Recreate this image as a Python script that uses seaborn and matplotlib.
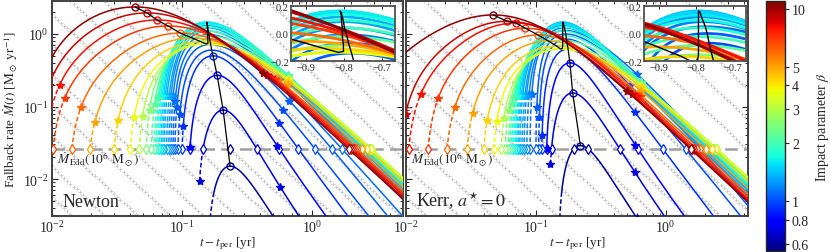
import numpy as np
import matplotlib
matplotlib.use("Agg")
import matplotlib.pyplot as plt
import seaborn as sns
from matplotlib.colors import LogNorm
from matplotlib.cm import ScalarMappable
from matplotlib.ticker import FixedLocator, FixedFormatter, NullLocator

sns.set_style("ticks")
plt.rcParams['font.family'] = ['Liberation Serif', 'DejaVu Serif']
plt.rcParams['mathtext.fontset'] = 'stix'

M_EDD = 0.026          # Eddington rate of a 1e6 Msun black hole [Msun/yr]
RISE_POWER = 1.0

# impact parameters of the plotted encounters
beta = [10.5, 9.0, 8.0, 7.0, 6.0, 5.0, 4.3, 3.7, 3.0, 2.5, 2.2, 2.0, 1.85, 1.7,
        1.6, 1.5, 1.42, 1.35, 1.28, 1.22, 1.16, 1.1, 1.05, 1.0, 0.92, 0.8, 0.7, 0.6]

# ---- Newton panel, values ----
newton_t_peak = [0.0435, 0.0538, 0.0643, 0.078, 0.097, 0.120, 0.140, 0.153, 0.158, 0.158,
                 0.157, 0.157, 0.156, 0.156, 0.155, 0.155, 0.156, 0.157, 0.158, 0.159,
                 0.161, 0.163, 0.166, 0.169, 0.173, 0.186, 0.207, 0.234]
newton_m_peak = [2.36, 1.95, 1.56, 1.29, 1.03, 0.88, 0.78, 0.73, 0.74, 0.82, 0.95, 1.10,
                 1.25, 1.38, 1.46, 1.45, 1.40, 1.32, 1.22, 1.10, 0.98, 0.85, 0.72, 0.60,
                 0.50, 0.27, 0.0895, 0.0151]
# one point on the rising branch (mostly the Eddington crossing)
newton_rise_t = [0.01, 0.01, 0.01, 0.0102, 0.0142, 0.0196, 0.030, 0.040, 0.047, 0.053,
                 0.058, 0.061, 0.063, 0.065, 0.067, 0.069, 0.071, 0.073, 0.076, 0.079,
                 0.082, 0.085, 0.088, 0.093, 0.100, 0.115, 0.145, 0.165]
newton_rise_m = [0.48, 0.25, 0.10] + [M_EDD] * 24 + [0.003]
# one point on the decaying branch
newton_late_t = [5.0] * 21 + [1.70, 1.42, 1.055, 0.785, 0.56, 0.376, 0.5]
newton_late_m = [0.0053, 0.0056, 0.0060, 0.0064, 0.0068, 0.0078, 0.0092, 0.0102, 0.0105,
                 0.0102, 0.0098, 0.0094, 0.0090, 0.0087, 0.0084, 0.0080, 0.0076, 0.0072,
                 0.0066, 0.0060, 0.0052] + [M_EDD] * 6 + [0.0031]
decay_index = [5 / 3] * 19 + [1.8, 1.9, 2.0, 2.2, 2.2, 2.3, 2.3, 2.3, 2.2]
newton_star_rise = [0.2, 0.2, 0.2, 0.13, 0.10, 0.062, 0.065, 0.072, 0.075, 0.09, 0.11,
                    0.13, 0.14, 0.14, 0.14, 0.14, 0.14, 0.14, 0.14, 0.14, 0.14, 0.12,
                    0.10, 0.079, 0.054, 0.028, 0.0093, np.nan]
newton_dash_top = [np.nan] * 27 + [0.0066]
newton_star_fall = [0.42, 0.45, 0.48, 0.52, 0.55] + [0.65] * 16 + [0.70, 0.67, 0.60, 0.56, 0.54, 0.57, 0.60]
newton_circled = [True] * 5 + [False] * 19 + [True] * 4

# ---- Kerr a*=0 panel ----
kerr_t_peak = [0.047, 0.060, 0.070, 0.083, 0.104, 0.125, 0.145, 0.155, 0.160, 0.161,
               0.161, 0.161, 0.161, 0.161, 0.161, 0.161, 0.161, 0.162, 0.163, 0.164,
               0.166, 0.168, 0.170, 0.172, 0.177, 0.183, 0.192, 0.220]
kerr_m_peak = [1.83, 1.50, 1.42, 1.20, 0.97, 0.80, 0.68, 0.62, 0.63, 0.70, 0.82, 0.95,
               1.10, 1.25, 1.36, 1.43, 1.46, 1.45, 1.40, 1.32, 1.22, 1.12, 1.00, 0.85,
               0.62, 0.40, 0.154, 0.029]
kerr_rise_t = [0.01, 0.01, 0.0105, 0.0148, 0.0207, 0.0295, 0.0397, 0.0475, 0.054, 0.058,
               0.061, 0.063, 0.065, 0.067, 0.069, 0.071, 0.073, 0.075, 0.078, 0.081,
               0.085, 0.090, 0.100, 0.105, 0.111, 0.121, 0.132, 0.153]
kerr_rise_m = [0.56, 0.084] + [M_EDD] * 25 + [0.003]
kerr_late_t = [4.3] * 21 + [2.2, 1.83, 1.42, 0.95, 0.61, 0.443, 0.253]
kerr_late_m = [0.0048, 0.0050, 0.0053, 0.0057, 0.0062, 0.0075, 0.0092, 0.0104, 0.0107,
               0.0103, 0.0098, 0.0093, 0.0089, 0.0085, 0.0081, 0.0077, 0.0073, 0.0069,
               0.0064, 0.0058, 0.0050] + [M_EDD] * 7
kerr_star_rise = [0.2, 0.08, 0.149, 0.13, 0.10, 0.081, 0.065, 0.063, 0.07, 0.09, 0.11,
                  0.13, 0.14, 0.14, 0.14, 0.14, 0.14, 0.14, 0.14, 0.14, 0.15, 0.15,
                  0.098, 0.072, 0.04, 0.026, 0.016, np.nan]
kerr_dash_top = [np.nan] * 27 + [0.0066]
kerr_star_fall = [0.50, 0.55, 0.60, 0.62, 0.65] + [0.65] * 16 + [0.60, 0.55, 0.53, 0.58, 0.58, 0.58, 0.60]
kerr_circled = [True] * 5 + [False] * 20 + [True] * 3

# faint t^-5/3 guide lines (log10 of their amplitude)
guide_log_amp = np.arange(-6.0, 1.9, 0.42)

norm = LogNorm(vmin=0.55, vmax=11)
cmap = plt.get_cmap('jet')


def shape(tau, a, n, m):
    q = a / n
    s = (a + n) / m
    return tau ** a * ((1 + q) / (1 + q * tau ** s)) ** m


def solve_m(tau_l, g_l, a, n):
    lo, hi = 0.03, 10.0
    for _ in range(60):
        mid = 0.5 * (lo + hi)
        if shape(tau_l, a, n, mid) < g_l:
            lo = mid
        else:
            hi = mid
    return 0.5 * (lo + hi)


def solve_tau(g_a, a, n, m):
    lo, hi = 1e-9, 1.0
    for _ in range(80):
        mid = np.sqrt(lo * hi)
        if shape(mid, a, n, m) < g_a:
            lo = mid
        else:
            hi = mid
    return np.sqrt(lo * hi)


def fit_curve(tp, mp, ta, ma, tl, ml, n):
    t0 = 0.9 * ta
    m = 1.0
    for _ in range(10):
        m = solve_m((tl - t0) / (tp - t0), ml / mp, RISE_POWER, n)
        tau_a = solve_tau(ma / mp, RISE_POWER, n, m)
        t0 = (ta - tau_a * tp) / (1 - tau_a)
    return t0, m


def draw_panel(ax, ins, xmax, t_peak, m_peak, rise_t, rise_m, late_t, late_m,
               star_rise, dash_top, star_fall, circled):
    lt = np.arange(-2.05, 0.75, 0.024)
    for la in guide_log_amp:
        ax.plot(10 ** lt, 10 ** (la - 5 / 3 * lt), ls='none', marker='+', ms=2.4,
                mew=0.55, color='#c4c4c4', zorder=1)
    ax.axhline(M_EDD, color='#a0a0a0', lw=1.8, ls=(0, (5, 2.5)), zorder=2)

    for i in np.argsort(beta):
        col = cmap(norm(beta[i]))
        n = decay_index[i]
        tp, mp = t_peak[i], m_peak[i]
        t0, m = fit_curve(tp, mp, rise_t[i], rise_m[i], late_t[i], late_m[i], n)

        def mdot(tt):
            return mp * shape((np.asarray(tt) - t0) / (tp - t0), RISE_POWER, n, m)

        tau = np.geomspace(1e-7, (5.3 - t0) / (tp - t0), 2500)
        t = t0 + tau * (tp - t0)
        md = mdot(t)
        rise = tau <= 1
        dec = tau >= 1

        def t_rise(level):
            return np.interp(np.log(level), np.log(md[rise]), t[rise])

        if np.isnan(dash_top[i]):
            lo = min(M_EDD, star_rise[i])
            hi = max(M_EDD, star_rise[i])
            t_lo, t_hi = t_rise(lo), t_rise(hi)
        else:
            t_lo, t_hi = t[0], t_rise(dash_top[i])

        td = np.concatenate([[t_lo], t[(t > t_lo) & (t < t_hi)], [t_hi]])
        ts = np.concatenate([[t_hi], t[t > t_hi]])
        ms = mdot(ts)
        ax.plot(td, mdot(td), color=col, lw=1.1, ls=(0, (3, 1.6)), zorder=3)
        sns.lineplot(x=ts, y=ms, ax=ax, color=col, lw=1.1, sort=False,
                     estimator=None, zorder=3)

        # markers
        if mp > M_EDD:
            ax.plot(t_rise(M_EDD), M_EDD, marker='d', ms=5, mfc='white', mec=col,
                    mew=0.9, zorder=3)
        if md[-1] < M_EDD:
            t_ed = np.interp(np.log(M_EDD), np.log(md[dec][::-1]), t[dec][::-1])
            if t_ed < xmax:
                ax.plot(t_ed, M_EDD, marker='d', ms=5, mfc='white', mec=col,
                        mew=0.9, zorder=3)
        if not np.isnan(star_rise[i]):
            ax.plot(t_rise(star_rise[i]), star_rise[i], marker='*', ms=6, color=col,
                    zorder=3)
        ax.plot(star_fall[i], mdot(star_fall[i]), marker='*', ms=6, color=col, zorder=3)
        if circled[i]:
            ax.plot(tp, mp, marker='o', ms=5, mfc='none', mec=col, mew=1.0, zorder=3)

        ins.plot(np.log10(ts), np.log10(ms), color=col, lw=2.0)

    sns.lineplot(x=t_peak, y=m_peak, ax=ax, color='k', lw=0.9, sort=False,
                 estimator=None, zorder=5)
    ins.plot(np.log10(t_peak), np.log10(m_peak), color='k', lw=1.0)

    ax.set_xscale('log')
    ax.set_yscale('log')
    ax.set_xlim(1e-2, xmax)
    ax.set_ylim(3.1e-3, 2.85)
    ax.tick_params(which='both', direction='in', top=True, right=True, labelsize=10, pad=2.5)
    ax.tick_params(which='major', length=4, width=0.8)
    ax.tick_params(which='minor', length=2.2, width=0.7)
    for sp in ax.spines.values():
        sp.set_color('#404040')
        sp.set_linewidth(1.4)
    ax.set_xlabel(r'$t - t_{\rm per}$ [yr]', fontsize=9.5)
    ax.xaxis.set_label_coords(0.5, -0.125)
    ax.xaxis.label.set_va('center')
    ax.text(0.015, 0.265, r'$\dot M_{\rm Edd}(10^6\ {\rm M}_\odot)$', transform=ax.transAxes,
            fontsize=9.5, va='center', ha='left')

    ins.set_xlim(-0.94, -0.665)
    ins.set_ylim(-0.2, 0.2)
    ins.xaxis.set_major_locator(FixedLocator([-0.9, -0.8, -0.7]))
    ins.xaxis.set_major_formatter(FixedFormatter(['\u22120.9', '\u22120.8', '\u22120.7']))
    ins.yaxis.set_major_locator(FixedLocator([-0.2, 0.0, 0.2]))
    ins.yaxis.set_major_formatter(FixedFormatter(['\u22120.2', '0.0', '0.2']))
    ins.tick_params(direction='in', top=True, right=True, length=2.5, width=0.7,
                    labelsize=7.5, pad=1.5)
    ins.set_facecolor('white')
    ins.set_zorder(10)
    for sp in ins.spines.values():
        sp.set_color('#505050')
        sp.set_linewidth(1.3)


fig = plt.figure(figsize=(8.3, 2.53), dpi=100)
ax_l = fig.add_axes([52 / 830, 36 / 253, 351 / 830, 215 / 253])
ax_r = fig.add_axes([406 / 830, 36 / 253, 342 / 830, 215 / 253])
ins_l = fig.add_axes([291 / 830, 191 / 253, 104 / 830, 55 / 253])
ins_r = fig.add_axes([644 / 830, 191 / 253, 102 / 830, 55 / 253])
cax = fig.add_axes([766 / 830, 1 / 253, 19 / 830, 250 / 253])

draw_panel(ax_l, ins_l, 5.0, newton_t_peak, newton_m_peak, newton_rise_t, newton_rise_m,
           newton_late_t, newton_late_m, newton_star_rise, newton_dash_top,
           newton_star_fall, newton_circled)
draw_panel(ax_r, ins_r, 4.3, kerr_t_peak, kerr_m_peak, kerr_rise_t, kerr_rise_m,
           kerr_late_t, kerr_late_m, kerr_star_rise, kerr_dash_top,
           kerr_star_fall, kerr_circled)

ax_l.set_ylabel(r'Fallback rate $\dot{M}(t)$ [${\rm M}_\odot\ {\rm yr}^{-1}$]', fontsize=9.5)
ax_l.yaxis.set_label_coords(-0.09, 0.5)
ax_r.tick_params(labelleft=False)
ax_l.text(0.03, 0.045, 'Newton', transform=ax_l.transAxes, fontsize=13)
ax_r.text(0.03, 0.045, r'Kerr, $a^{\star} = 0$', transform=ax_r.transAxes, fontsize=13)

cb = fig.colorbar(ScalarMappable(norm=norm, cmap=cmap), cax=cax)
cb_ticks = [0.6, 0.8, 1, 2, 3, 4, 5, 10]
cb.set_ticks(cb_ticks)
cb.set_ticklabels(['0.6', '0.8', '1', '2', '3', '4', '5', '10'])
cax.yaxis.set_minor_locator(NullLocator())
cax.tick_params(labelsize=10, length=3, width=0.8, pad=2)
cb.outline.set_linewidth(1.0)
cb.set_label(r'Impact parameter $\beta$', fontsize=10)
cax.yaxis.set_label_coords(2.55, 0.5)

fig.savefig('out.png', dpi=100)
